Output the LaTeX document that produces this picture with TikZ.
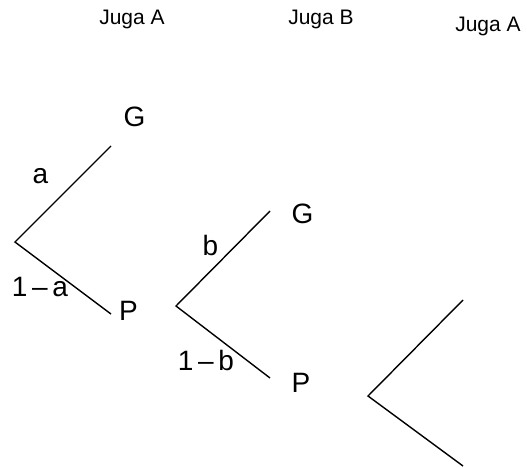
\documentclass[tikz,border=0pt]{standalone}
\usepackage{fontspec}
\setmainfont{Liberation Sans}
\begin{document}
\begin{tikzpicture}[x=1pt,y=-1pt,
  branch/.style={line width=1.4pt},
  head/.style={anchor=base,inner sep=0pt,font=\fontsize{21}{24}\selectfont},
  leaf/.style={anchor=base,inner sep=0pt,font=\fontsize{28}{32}\selectfont},
  prob/.style={anchor=base,inner sep=0pt,font=\fontsize{28}{32}\selectfont}]
\useasboundingbox (0,0) rectangle (527,468);
% column headings
\node[head] (h1) at (132,25) {Juga A};
\node[head] (h2) at (321,25) {Juga B};
\node[head] (h3) at (488,32) {Juga A};
% branch points and branch ends
\coordinate (r1) at (15,242);
\coordinate (u1) at (111,146);
\coordinate (d1) at (111,314);
\coordinate (r2) at (176,306);
\coordinate (u2) at (270,211);
\coordinate (d2) at (270,378);
\coordinate (r3) at (368,396);
\coordinate (u3) at (463,300);
\coordinate (d3) at (463,466);
% branches
\draw[branch] (u1) -- (r1) -- (d1);
\draw[branch] (u2) -- (r2) -- (d2);
\draw[branch] (u3) -- (r3) -- (d3);
% outcomes
\node[leaf] (g1) at (134.5,127) {G};
\node[leaf] (p1) at (128.5,320) {P};
\node[leaf] (g2) at (302.5,223) {G};
\node[leaf] (p2) at (301,392) {P};
% probabilities
\node[prob] (la) at (40.5,183) {a};
\node[prob] (l1a) at (40,296.5) {1\,–\,a};
\node[prob] (lb) at (210.5,255) {b};
\node[prob] (l1b) at (206,370) {1\,–\,b};
\end{tikzpicture}
\end{document}
